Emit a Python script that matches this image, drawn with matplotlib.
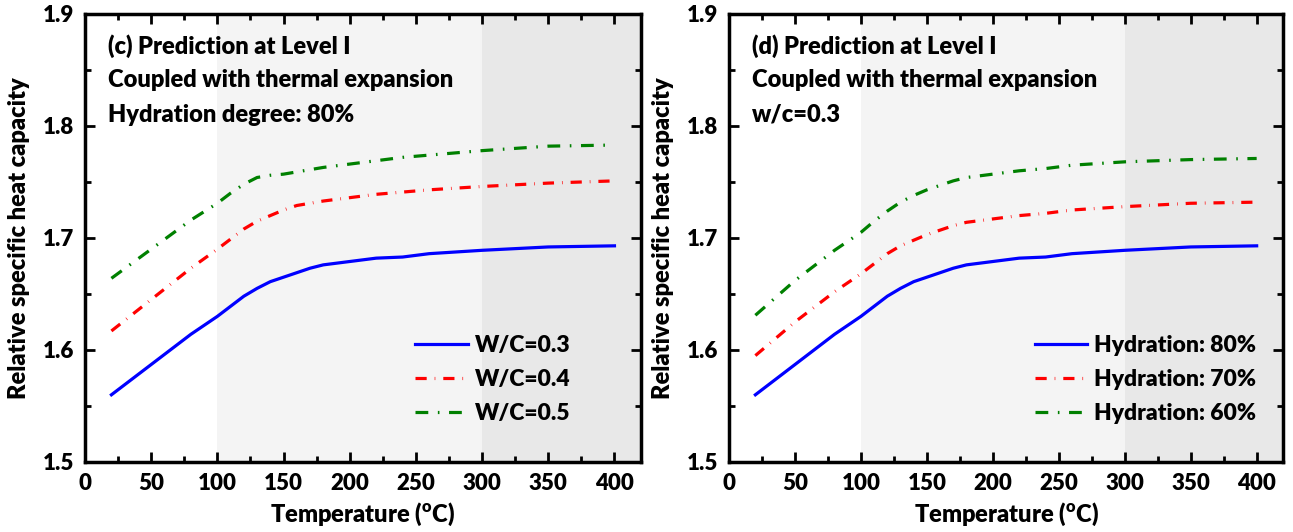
import numpy as np
import matplotlib
matplotlib.use("Agg")
import matplotlib.pyplot as plt
from matplotlib.ticker import MultipleLocator

plt.rcParams['font.family'] = ['Lato', 'DejaVu Sans']
plt.rcParams['font.weight'] = 'heavy'
plt.rcParams['axes.labelweight'] = 'heavy'
plt.rcParams['mathtext.default'] = 'regular'

# temperatures (C)
temp = [20, 50, 80, 100, 110, 120, 130, 140, 150, 160, 170, 180, 200, 220, 240, 260, 300, 350, 400]

# panel (c): hydration 80%, varying w/c
wc03 = [1.560, 1.587, 1.614, 1.630, 1.639, 1.648, 1.655, 1.661, 1.665, 1.669, 1.673, 1.676,
        1.679, 1.682, 1.683, 1.686, 1.689, 1.692, 1.693]
wc04 = [1.617, 1.645, 1.673, 1.690, 1.699, 1.708, 1.715, 1.720, 1.725, 1.729, 1.731, 1.733,
        1.736, 1.739, 1.741, 1.743, 1.746, 1.749, 1.751]
wc05 = [1.664, 1.690, 1.716, 1.731, 1.740, 1.748, 1.754, 1.756, 1.757, 1.759, 1.761, 1.763,
        1.766, 1.769, 1.772, 1.774, 1.778, 1.782, 1.783]

# panel (d): w/c 0.3, varying hydration
hyd80 = wc03
hyd70 = [1.595, 1.625, 1.652, 1.668, 1.677, 1.686, 1.693, 1.698, 1.703, 1.707, 1.711, 1.714,
         1.717, 1.720, 1.722, 1.725, 1.728, 1.731, 1.732]
hyd60 = [1.631, 1.662, 1.689, 1.705, 1.715, 1.724, 1.732, 1.738, 1.743, 1.747, 1.751, 1.754,
         1.757, 1.760, 1.762, 1.765, 1.768, 1.770, 1.771]

panels = [
    ("(c) Prediction at Level I", "Hydration degree: 80%",
     [wc03, wc04, wc05], ["W/C=0.3", "W/C=0.4", "W/C=0.5"], 0.89),
    ("(d) Prediction at Level I", "w/c=0.3",
     [hyd80, hyd70, hyd60], ["Hydration: 80%", "Hydration: 70%", "Hydration: 60%"], 0.968),
]

colors = ['blue', 'red', 'green']
styles = ['-', (0, (3.5, 2.5, 0.2, 2.5)), (0, (4, 3, 0.5, 3))]

fig = plt.figure(figsize=(12.93, 5.32), dpi=100)
rects = [[0.0657, 0.1316, 0.43, 0.8421], [0.5638, 0.1316, 0.4285, 0.8421]]

for rect, (title, third, series, labels, legx) in zip(rects, panels):
    ax = fig.add_axes(rect)
    ax.axvspan(100, 300, color='#f4f4f4', lw=0, zorder=0)
    ax.axvspan(300, 420, color='#e8e8e8', lw=0, zorder=0)
    for y, c, ls, lab in zip(series, colors, styles, labels):
        ax.plot(temp, y, color=c, linestyle=ls, lw=2.3, label=lab)
    ax.set_xlim(0, 420)
    ax.set_ylim(1.5, 1.9)
    ax.xaxis.set_major_locator(MultipleLocator(50))
    ax.xaxis.set_minor_locator(MultipleLocator(25))
    ax.yaxis.set_major_locator(MultipleLocator(0.1))
    ax.yaxis.set_minor_locator(MultipleLocator(0.05))
    ax.tick_params(which='both', direction='in', top=True, right=True,
                   width=2, labelsize=16)
    ax.tick_params(which='major', length=7, pad=8)
    ax.tick_params(which='minor', length=4)
    for s in ax.spines.values():
        s.set_linewidth(2.5)
    ax.set_xlabel('Temperature ($^{o}$C)', fontsize=17, labelpad=5)
    ax.set_ylabel('Relative specific heat capacity', fontsize=17, labelpad=9)
    for yy, txt in zip([0.929, 0.853, 0.775],
                       [title, "Coupled with thermal expansion", third]):
        ax.text(0.042, yy, txt, transform=ax.transAxes, fontsize=17, va='center')
    ax.legend(loc='lower right', bbox_to_anchor=(legx, 0.065), frameon=False,
              fontsize=16.5, handlelength=2.3, labelspacing=0.55, handletextpad=0.3,
              borderaxespad=0)

fig.savefig('out.png', dpi=100)
